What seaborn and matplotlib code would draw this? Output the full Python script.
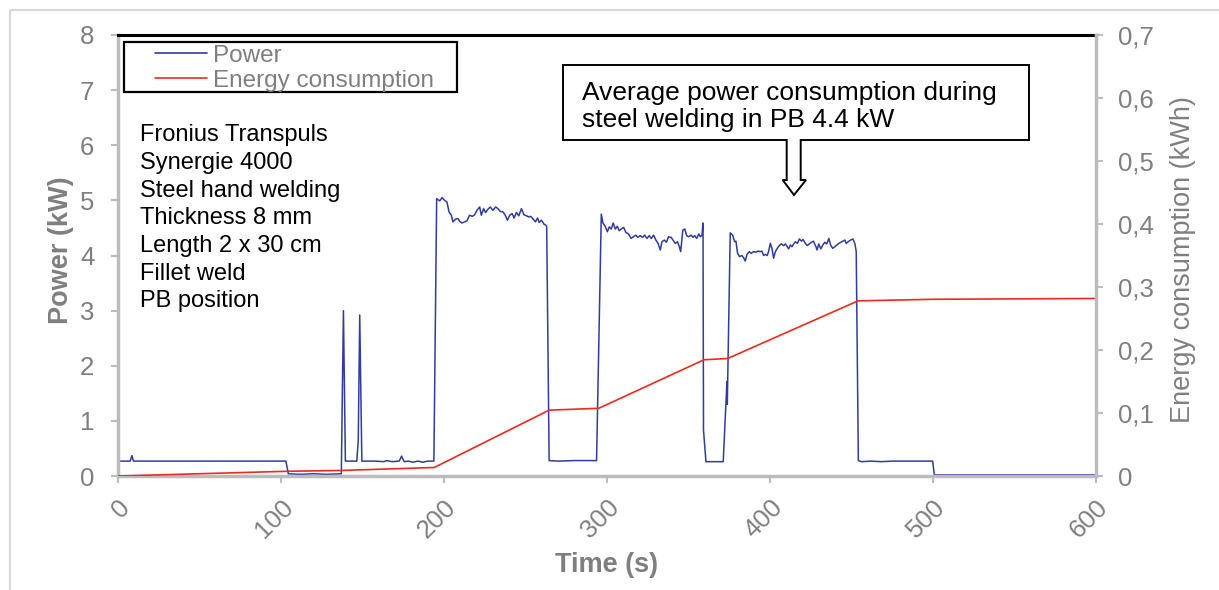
import matplotlib
matplotlib.use("Agg")
import matplotlib.pyplot as plt
import seaborn as sns
import pandas as pd
from matplotlib.patches import Polygon, Rectangle
from matplotlib.lines import Line2D

# ---- measured welding-cell power (kW) against time (s) ----
time_s = [
    0.0, 7.5, 8.5, 9.5, 103.0, 104.5, 112.0, 120.0, 128.0, 137.0,
    138.3, 139.5, 146.5, 147.4, 148.3, 149.6, 158.0, 163.0, 165.0, 168.0,
    172.5, 174.0, 175.5, 178.0, 181.0, 184.0, 187.0, 190.0, 193.8,
    # weld pass 1
    195.5, 197.4, 198.8, 200.4, 201.8, 203.1, 204.5, 205.5, 207.1, 208.6,
    209.6, 211.0, 212.7, 214.1, 215.7, 217.4, 218.8, 220.2, 221.9, 222.9,
    224.3, 225.5, 227.0, 228.4, 230.0, 231.7, 233.1, 234.5, 236.2, 237.6,
    238.9, 240.3, 241.8, 243.0, 244.4, 245.9, 247.5, 249.0, 250.6, 252.0,
    253.2, 254.7, 256.1, 257.4, 258.4, 259.8, 261.3, 262.5, 263.0,
    264.5, 270.0, 280.0, 293.6,
    # weld pass 2
    296.5, 297.5, 298.9, 300.2, 301.4, 302.6, 303.8, 305.1, 306.3, 307.5,
    308.7, 310.2, 311.6, 313.2, 314.8, 316.3, 317.7, 318.9, 320.4, 321.8,
    323.1, 324.5, 325.9, 327.2, 328.6, 330.0, 331.3, 332.7, 333.7, 335.2,
    336.4, 337.8, 339.3, 340.5, 341.9, 343.2, 344.4, 345.2, 346.5, 347.7,
    348.9, 350.2, 351.6, 352.8, 353.8, 355.0, 356.3, 357.3, 358.3, 358.9,
    359.2, 360.7, 366.0, 371.3, 373.6, 373.8,
    # weld pass 3
    375.6, 377.1, 378.3, 379.1, 380.1, 381.3, 382.8, 384.0, 384.8, 385.9,
    387.3, 388.5, 389.9, 391.4, 392.6, 394.0, 395.0, 396.1, 397.1, 398.3,
    399.2, 400.2, 401.2, 402.2, 403.3, 404.5, 405.7, 406.9, 408.4, 409.4,
    410.6, 411.4, 412.5, 413.5, 414.5, 415.6, 416.8, 418.0, 419.3, 420.3,
    421.7, 422.9, 424.2, 425.4, 426.6, 427.9, 428.9, 429.9, 431.2, 432.4,
    433.6, 434.8, 436.1, 437.3, 438.5, 439.8, 441.0, 442.2, 443.5, 444.7,
    445.9, 446.8, 448.0, 449.4, 450.9, 452.1, 452.9,
    454.2, 456.0, 462.0, 468.0, 475.0, 485.0, 499.8, 500.8, 600.0,
]
power_kw = [
    0.27, 0.27, 0.37, 0.27, 0.27, 0.04, 0.03, 0.04, 0.03, 0.04,
    3.00, 0.27, 0.27, 0.65, 2.92, 0.27, 0.27, 0.26, 0.28, 0.26,
    0.27, 0.36, 0.26, 0.27, 0.25, 0.27, 0.25, 0.27, 0.27,
    5.03, 4.99, 5.05, 5.00, 4.97, 4.79, 4.73, 4.61, 4.66, 4.67,
    4.62, 4.59, 4.61, 4.63, 4.73, 4.71, 4.74, 4.82, 4.88, 4.73,
    4.85, 4.78, 4.84, 4.88, 4.82, 4.88, 4.85, 4.80, 4.79, 4.73,
    4.64, 4.73, 4.76, 4.68, 4.78, 4.72, 4.85, 4.74, 4.72, 4.70,
    4.71, 4.66, 4.61, 4.68, 4.60, 4.64, 4.57, 4.55, 4.52,
    0.28, 0.27, 0.28, 0.28,
    4.75, 4.59, 4.53, 4.43, 4.52, 4.48, 4.59, 4.48, 4.53, 4.45,
    4.48, 4.51, 4.42, 4.39, 4.31, 4.34, 4.37, 4.33, 4.36, 4.33,
    4.37, 4.31, 4.36, 4.31, 4.37, 4.28, 4.22, 4.10, 4.25, 4.28,
    4.24, 4.34, 4.33, 4.28, 4.22, 4.25, 4.16, 4.07, 4.46, 4.48,
    4.36, 4.34, 4.37, 4.33, 4.36, 4.31, 4.39, 4.34, 4.37, 4.59,
    0.83, 0.26, 0.26, 0.26, 1.72, 1.30,
    4.41, 4.37, 4.25, 4.26, 4.04, 3.98, 4.00, 3.95, 3.90, 4.02,
    4.07, 4.04, 4.07, 4.06, 4.08, 4.07, 4.08, 4.00, 4.02, 4.00,
    4.08, 4.22, 4.13, 3.95, 4.07, 4.13, 4.18, 4.21, 4.18, 4.21,
    4.16, 4.12, 4.19, 4.16, 4.21, 4.25, 4.22, 4.30, 4.26, 4.29,
    4.22, 4.18, 4.21, 4.24, 4.26, 4.18, 4.10, 4.21, 4.12, 4.19,
    4.24, 4.21, 4.31, 4.18, 4.13, 4.16, 4.19, 4.22, 4.24, 4.26,
    4.28, 4.22, 4.25, 4.28, 4.30, 4.21, 4.07,
    0.28, 0.26, 0.27, 0.26, 0.27, 0.27, 0.27, 0.02, 0.02,
]

# ---- cumulative energy consumption (kWh) ----
energy_time_s = [0, 104, 137, 194, 264.5, 295, 359.5, 374, 454, 500, 600]
energy_kwh = [0.0, 0.0075, 0.0088, 0.0135, 0.1045, 0.1075, 0.1845, 0.1865, 0.278, 0.2805, 0.2818]

time_ticks = [0, 100, 200, 300, 400, 500, 600]
power_ticks = [0, 1, 2, 3, 4, 5, 6, 7, 8]
energy_ticks = [0.0, 0.1, 0.2, 0.3, 0.4, 0.5, 0.6, 0.7]
energy_tick_labels = ["0", "0,1", "0,2", "0,3", "0,4", "0,5", "0,6", "0,7"]

series_labels = ["Power", "Energy consumption"]
info_lines = ["Fronius Transpuls", "Synergie 4000", "Steel hand welding",
              "Thickness 8 mm", "Length 2 x 30 cm", "Fillet weld", "PB position"]
callout_lines = ["Average power consumption during", "steel welding in PB 4.4 kW"]

BLUE = "#2f3ca0"
RED = "#ee2a1f"
GREY_TXT = "#7f7f7f"
GREY_AX = "#bcbcbc"

sns.set_theme(style="white")
plt.rcParams["font.family"] = ["Liberation Sans", "DejaVu Sans"]

W, H = 1219, 590
fig = plt.figure(figsize=(W / 100, H / 100), dpi=100)
fig.patch.set_facecolor("white")


def fx(px):
    return px / W


def fy(py):
    return 1 - py / H


ax = fig.add_axes([fx(118), fy(476), (1096 - 118) / W, (476 - 35) / H])
ax2 = ax.twinx()

power_df = pd.DataFrame({"t": time_s, "p": power_kw})
energy_df = pd.DataFrame({"t": energy_time_s, "e": energy_kwh})

sns.lineplot(data=power_df, x="t", y="p", ax=ax, color=BLUE, lw=1.1,
             estimator=None, sort=False, legend=False)
sns.lineplot(data=energy_df, x="t", y="e", ax=ax2, color=RED, lw=1.2,
             estimator=None, sort=False, legend=False)

ax.set_xlim(0, 600)
ax.set_ylim(0, 8)
ax2.set_ylim(0, 0.7)
ax.set_xticks(time_ticks)
ax.set_xticklabels([str(v) for v in time_ticks], rotation=45, ha="right",
                   va="top", rotation_mode="anchor")
ax.set_yticks(power_ticks)
ax.set_yticklabels([str(v) for v in power_ticks])
ax2.set_yticks(energy_ticks)
ax2.set_yticklabels(energy_tick_labels)

for a in (ax, ax2):
    a.grid(False)
    a.set_facecolor("none")
ax.patch.set_facecolor("white")

ax.tick_params(axis="y", direction="out", length=5, width=1.5, color=GREY_AX,
               labelcolor=GREY_TXT, labelsize=18.5, pad=12, left=True)
ax.tick_params(axis="x", direction="out", length=5, width=1.5, color=GREY_AX,
               labelcolor=GREY_TXT, labelsize=18.5, pad=9, bottom=True)
ax2.tick_params(axis="y", direction="out", length=5, width=1.5, color=GREY_AX,
                labelcolor=GREY_TXT, labelsize=18.5, pad=11, right=True)

for side in ("left", "bottom"):
    ax.spines[side].set_color(GREY_AX)
    ax.spines[side].set_linewidth(2.5)
ax.spines["top"].set_color("black")
ax.spines["top"].set_linewidth(2.2)
ax.spines["right"].set_visible(False)
for side in ("left", "bottom", "top"):
    ax2.spines[side].set_visible(False)
ax2.spines["right"].set_color(GREY_AX)
ax2.spines["right"].set_linewidth(2.5)

ax.set_xlabel("Time (s)", fontsize=19.5, fontweight="bold", color=GREY_TXT)
ax.xaxis.label.set_va("center")
ax.xaxis.set_label_coords(0.5, -(565 - 476) / 441)
ax.set_ylabel("Power (kW)", fontsize=19.5, fontweight="bold", color=GREY_TXT)
ax.yaxis.label.set_va("center")
ax.yaxis.set_label_coords(-(118 - 61) / 978, 0.512)
ax2.set_ylabel("Energy consumption (kWh)", fontsize=19.5, color=GREY_TXT,
               rotation=90)
ax2.yaxis.label.set_va("center")
ax2.yaxis.set_label_coords(1 + (1183 - 1096) / 978, 0.49)

# legend with a square black frame
handles = [Line2D([], [], color=BLUE, lw=1.2), Line2D([], [], color=RED, lw=1.2)]
fig.legend(handles, series_labels, loc="upper left",
           bbox_to_anchor=(fx(155), fy(44.5)), bbox_transform=fig.transFigure,
           frameon=False, fontsize=17.5, labelcolor=GREY_TXT, borderpad=0,
           borderaxespad=0, handlelength=2.15, handletextpad=0.25,
           labelspacing=0.13)
fig.patches.append(Rectangle((fx(124), fy(92)), (457 - 124) / W, (92 - 42) / H,
                             transform=fig.transFigure, fill=False,
                             edgecolor="black", lw=1.6, zorder=1))

# welding parameters
for i, line in enumerate(info_lines):
    fig.text(fx(140), fy(141.5 + i * 27.6), line, fontsize=17, color="black",
             va="baseline", ha="left")

# down-arrow callout
callout = [(563, 65), (1029, 65), (1029, 140), (800.7, 140), (800.7, 180),
           (806, 180), (794, 195), (782.7, 180), (786.7, 180), (786.7, 140),
           (563, 140)]
fig.patches.append(Polygon([(fx(x), fy(y)) for x, y in callout], closed=True,
                           transform=fig.transFigure, facecolor="white",
                           edgecolor="black", lw=1.4, zorder=2))
for i, line in enumerate(callout_lines):
    fig.text(fx(582), fy(100 + i * 27.5), line, fontsize=19, color="black",
             va="baseline", ha="left", zorder=3)

# outer frame of the figure
fig.lines.append(Line2D([fx(10), fx(10), fx(1219)], [fy(590), fy(10), fy(10)],
                        transform=fig.transFigure, color="#d9d9d9", lw=1.5))

fig.savefig("out.png", dpi=100, facecolor="white")
